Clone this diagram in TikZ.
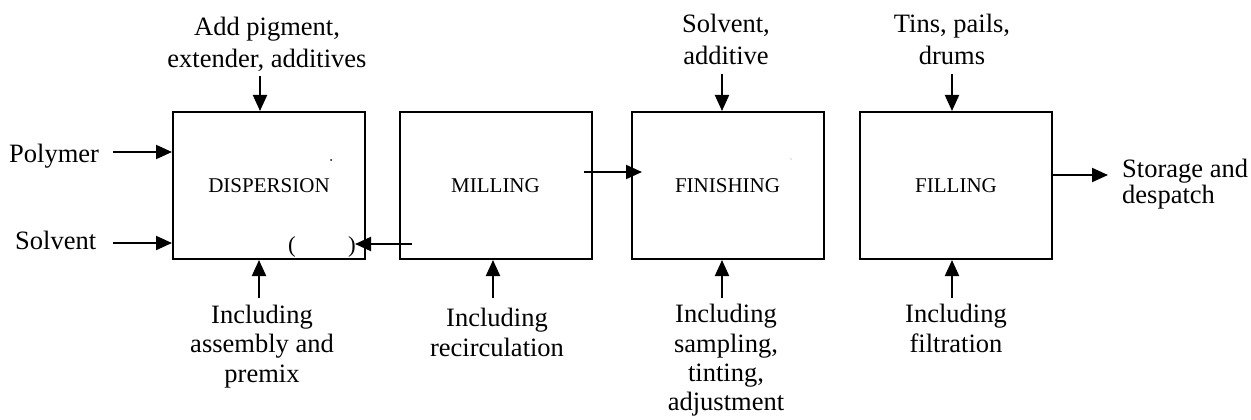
\documentclass[tikz,border=0pt]{standalone}
\usepackage{fontspec}
\setmainfont{Liberation Serif}
\usetikzlibrary{arrows.meta}
\tikzset{
  stage/.style={draw, line width=2pt, minimum width=192pt, minimum height=147pt,
    inner sep=0pt, font=\fontsize{21}{24}\selectfont},
  lbl/.style={inner sep=0pt, align=center, font=\fontsize{26.5}{32.5}\selectfont},
  lblb/.style={inner sep=0pt, align=center, font=\fontsize{26.5}{29.2}\selectfont},
  arr/.style={line width=2pt, -{Triangle[length=16pt,width=14pt]}},
  paren/.style={inner sep=0pt, font=\fontsize{23}{23}\selectfont},
}
\begin{document}
\begin{tikzpicture}[x=1pt,y=-1pt]
\useasboundingbox (0,0) rectangle (1251,420);

% process stages
\node[stage] (disp) at (269,185.5) {DISPERSION};
\node[stage] (mill) at (495.5,185.5) {MILLING};
\node[stage] (fin)  at (727.5,185.5) {FINISHING};
\node[stage] (fill) at (956,185.5) {FILLING};

% feeds from above (anchored at the baseline of the last line)
\node[lbl, anchor=base] (tdisp) at (267,68) {Add pigment,\\extender, additives};
\node[lbl, anchor=base] (tfin)  at (726,65) {Solvent,\\additive};
\node[lbl, anchor=base] (tfill) at (952,65) {Tins, pails,\\drums};
\coordinate (ctdisp) at (260,76);
\coordinate (ctfin)  at (722,74);
\coordinate (ctfill) at (952,74);
\draw[arr] (ctdisp) -- (ctdisp |- disp.north);
\draw[arr] (ctfin)  -- (ctfin |- fin.north);
\draw[arr] (ctfill) -- (ctfill |- fill.north);

% feeds from the left
\node[lbl, anchor=base west] (poly) at (9,162) {Polymer};
\node[lbl, anchor=base west] (solv) at (15,249) {Solvent};
\coordinate (cpoly) at (113,152);
\coordinate (csolv) at (113,243);
\draw[arr] (cpoly) -- (cpoly -| disp.west);
\draw[arr] (csolv) -- (csolv -| disp.west);

% notes below each stage
\node[lblb, anchor=base] (bdisp) at (262,382) {Including\\assembly and\\premix};
\node[lblb, anchor=base] (bmill) at (497,356) {Including\\recirculation};
\node[lblb, anchor=base] (bfin)  at (726,410.5) {Including\\sampling,\\tinting,\\adjustment};
\node[lblb, anchor=base] (bfill) at (956,352) {Including\\filtration};
\coordinate (cbdisp) at (259,298);
\coordinate (cbmill) at (493,298);
\coordinate (cbfin)  at (722,298);
\coordinate (cbfill) at (952,298);
\draw[arr] (cbdisp) -- (cbdisp |- disp.south);
\draw[arr] (cbmill) -- (cbmill |- mill.south);
\draw[arr] (cbfin)  -- (cbfin |- fin.south);
\draw[arr] (cbfill) -- (cbfill |- fill.south);

% flow between stages
\coordinate (mfa) at (584,172);
\coordinate (mfb) at (642,172);
\draw[arr] (mfa) -- (mfb);
\coordinate (rca) at (412,244);
\coordinate (rcb) at (355,244);
\draw[arr] (rca) -- (rcb);
\node[paren] (pl) at (292,247) {(};
\node[paren] (pr) at (352,247) {)};

% output
\node[lbl, anchor=base west, align=left, font=\fontsize{26.5}{25.5}\selectfont]
  (out) at (1122,203) {Storage and\\despatch};
\coordinate (cout) at (1108,175);
\draw[arr] (cout -| fill.east) -- (cout);

% stray marks
\fill (331,160) circle (1pt);
\fill[gray!40] (791,159) circle (0.8pt);
\end{tikzpicture}
\end{document}
